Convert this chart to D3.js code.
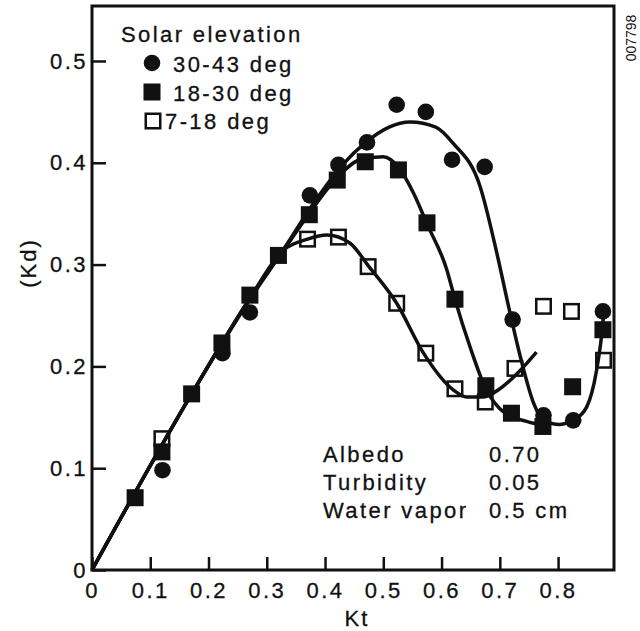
<!DOCTYPE html>
<html>
<head>
<meta charset="utf-8">
<script src="https://cdn.jsdelivr.net/npm/d3@7"></script>
<style>
  body { margin: 0; background: #fff; }
  text { font-family: "Liberation Sans", Arial, Helvetica, sans-serif; fill: #111; stroke: #111; stroke-width: 0.3px; }
</style>
</head>
<body>
<div id="container"></div>
<script>

// Classes de elevação solar
var elevationLabels = ["30-43 deg", "18-30 deg", "7-18 deg"]

// Pontos medidos [Kt, Kd]
var pointsHigh = [
  [0.121, 0.098], [0.224, 0.213], [0.271, 0.253], [0.374, 0.368], [0.423, 0.398],
  [0.472, 0.420], [0.523, 0.457], [0.573, 0.450], [0.618, 0.403], [0.674, 0.396],
  [0.722, 0.246], [0.775, 0.152], [0.826, 0.147], [0.877, 0.254]
]
var pointsMid = [
  [0.074, 0.071], [0.120, 0.116], [0.171, 0.173], [0.223, 0.223], [0.271, 0.270],
  [0.320, 0.309], [0.373, 0.349], [0.421, 0.383], [0.469, 0.401], [0.526, 0.393],
  [0.575, 0.341], [0.623, 0.266], [0.676, 0.181], [0.720, 0.154], [0.774, 0.141],
  [0.825, 0.180], [0.877, 0.236]
]
var pointsLow = [
  [0.120, 0.129], [0.370, 0.325], [0.423, 0.327], [0.474, 0.298], [0.523, 0.262],
  [0.573, 0.213], [0.623, 0.178], [0.675, 0.165], [0.726, 0.198], [0.775, 0.259],
  [0.823, 0.254], [0.878, 0.206]
]

// Curvas ajustadas [Kt, Kd]
var fitHigh = [
  [0, 0], [0.17, 0.172], [0.27, 0.265], [0.33, 0.316], [0.38, 0.360], [0.43, 0.398],
  [0.47, 0.420], [0.51, 0.435], [0.546, 0.440], [0.59, 0.435], [0.62, 0.419],
  [0.666, 0.377], [0.695, 0.311], [0.715, 0.259], [0.735, 0.210], [0.758, 0.164],
  [0.775, 0.147], [0.803, 0.143], [0.826, 0.147], [0.849, 0.160], [0.866, 0.196],
  [0.875, 0.232], [0.878, 0.250]
]
var fitMid = [
  [0, 0], [0.17, 0.172], [0.27, 0.266], [0.33, 0.315], [0.375, 0.352], [0.42, 0.385],
  [0.46, 0.403], [0.50, 0.406], [0.527, 0.395], [0.552, 0.370], [0.575, 0.340],
  [0.609, 0.295], [0.623, 0.266], [0.649, 0.219], [0.676, 0.178], [0.709, 0.154],
  [0.746, 0.146], [0.775, 0.142]
]
var fitLow = [
  [0, 0], [0.17, 0.172], [0.27, 0.266], [0.328, 0.314], [0.37, 0.325], [0.403, 0.329],
  [0.443, 0.321], [0.474, 0.299], [0.523, 0.262], [0.569, 0.213], [0.620, 0.177],
  [0.643, 0.170], [0.672, 0.170], [0.700, 0.178], [0.735, 0.196], [0.763, 0.214]
]

// Ticks
var xTicks = [0, 0.1, 0.2, 0.3, 0.4, 0.5, 0.6, 0.7, 0.8]
var xTickLabels = ["0", "0.1", "0.2", "0.3", "0.4", "0.5", "0.6", "0.7", "0.8"]
var yTicks = [0, 0.1, 0.2, 0.3, 0.4, 0.5]
var yTickLabels = ["0", "0.1", "0.2", "0.3", "0.4", "0.5"]

// Parâmetros da atmosfera
var paramNames = ["Albedo", "Turbidity", "Water vapor"]
var paramValues = ["0.70", "0.05", "0.5 cm"]

var margin = { top: 6, left: 92, right: 26, bottom: 61 },
  width = 640 - margin.left - margin.right,
  height = 631 - margin.top - margin.bottom

var svg = d3.select("#container")
  .append("svg")
  .attr("width", 640)
  .attr("height", 631)
  .append("g")
  .attr("transform", "translate(" + margin.left + "," + margin.top + ")")

// Escalas
var x = d3.scaleLinear().domain([0, 0.896]).range([0, width])
var y = d3.scaleLinear().domain([0, 0.554]).range([height, 0])

// Eixos com ticks para dentro
var xAxis = d3.axisBottom(x)
  .tickValues(xTicks)
  .tickFormat(function(d, i) { return xTickLabels[i] })
  .tickSizeInner(-13)
  .tickSizeOuter(0)
  .tickPadding(12)

var yAxis = d3.axisLeft(y)
  .tickValues(yTicks)
  .tickFormat(function(d, i) { return yTickLabels[i] })
  .tickSizeInner(-14)
  .tickSizeOuter(0)
  .tickPadding(4)

var gx = svg.append("g")
  .attr("transform", "translate(0," + height + ")")
  .call(xAxis)

var gy = svg.append("g").call(yAxis)

svg.selectAll(".domain").remove()
svg.selectAll(".tick line").attr("stroke", "#111").attr("stroke-width", 2.5)
svg.selectAll(".tick text")
  .attr("font-size", 22)
  .attr("letter-spacing", "2.5px")
  .attr("fill", "#111")
  .style("font-family", "'Liberation Sans', Arial, sans-serif")

// Moldura
svg.append("rect")
  .attr("x", 0)
  .attr("y", 0)
  .attr("width", width)
  .attr("height", height)
  .attr("fill", "none")
  .attr("stroke", "#111")
  .attr("stroke-width", 3)

// Curvas
var line = d3.line()
  .x(function(d) { return x(d[0]) })
  .y(function(d) { return y(d[1]) })
  .curve(d3.curveMonotoneX)

svg.selectAll(".fit")
  .data([fitHigh, fitMid, fitLow])
  .enter().append("path")
  .attr("class", "fit")
  .attr("d", line)
  .attr("fill", "none")
  .attr("stroke", "#111")
  .attr("stroke-width", 3.5)

var sq = 17

// Quadrados abertos
svg.selectAll(".low")
  .data(pointsLow)
  .enter().append("rect")
  .attr("class", "low")
  .attr("x", function(d) { return x(d[0]) - (sq - 2.5) / 2 })
  .attr("y", function(d) { return y(d[1]) - (sq - 2.5) / 2 })
  .attr("width", sq - 2.5)
  .attr("height", sq - 2.5)
  .attr("fill", "none")
  .attr("stroke", "#111")
  .attr("stroke-width", 2.5)

// Quadrados cheios
svg.selectAll(".mid")
  .data(pointsMid)
  .enter().append("rect")
  .attr("class", "mid")
  .attr("x", function(d) { return x(d[0]) - sq / 2 })
  .attr("y", function(d) { return y(d[1]) - sq / 2 })
  .attr("width", sq)
  .attr("height", sq)
  .attr("fill", "#111")

// Círculos
svg.selectAll(".high")
  .data(pointsHigh)
  .enter().append("circle")
  .attr("class", "high")
  .attr("cx", function(d) { return x(d[0]) })
  .attr("cy", function(d) { return y(d[1]) })
  .attr("r", 8.3)
  .attr("fill", "#111")

// Legenda
var legend = svg.append("g")
  .attr("transform", "translate(" + (-margin.left) + "," + (-margin.top) + ")")

legend.append("text")
  .text("Solar elevation")
  .attr("x", 121)
  .attr("y", 42)
  .attr("font-size", 22)
  .attr("letter-spacing", "2.4px")

legend.append("circle")
  .attr("cx", 152)
  .attr("cy", 63)
  .attr("r", 8.3)
  .attr("fill", "#111")

legend.append("rect")
  .attr("x", 152 - sq / 2)
  .attr("y", 92 - sq / 2)
  .attr("width", sq)
  .attr("height", sq)
  .attr("fill", "#111")

legend.append("rect")
  .attr("x", 153 - (sq - 2.5) / 2)
  .attr("y", 121 - (sq - 2.5) / 2)
  .attr("width", sq - 2.5)
  .attr("height", sq - 2.5)
  .attr("fill", "none")
  .attr("stroke", "#111")
  .attr("stroke-width", 2.5)

legend.selectAll(".legend-label")
  .data(elevationLabels)
  .enter().append("text")
  .attr("class", "legend-label")
  .text(function(d) { return d })
  .attr("x", function(d, i) { return i == 2 ? 165 : 173 })
  .attr("y", function(d, i) { return 72 + i * 28.5 })
  .attr("font-size", 22)
  .attr("letter-spacing", "2.4px")

// Bloco de parâmetros
legend.selectAll(".param-name")
  .data(paramNames)
  .enter().append("text")
  .attr("class", "param-name")
  .text(function(d) { return d })
  .attr("x", 323)
  .attr("y", function(d, i) { return 462 + i * 28 })
  .attr("font-size", 22)
  .attr("letter-spacing", "2.4px")

legend.selectAll(".param-value")
  .data(paramValues)
  .enter().append("text")
  .attr("class", "param-value")
  .text(function(d) { return d })
  .attr("x", 489)
  .attr("y", function(d, i) { return 462 + i * 28 })
  .attr("font-size", 22)
  .attr("letter-spacing", "2.4px")

// Títulos dos eixos
legend.append("text")
  .text("Kt")
  .attr("x", 357)
  .attr("y", 626)
  .attr("text-anchor", "middle")
  .attr("font-size", 22)
  .attr("letter-spacing", "2px")

legend.append("text")
  .text("(Kd)")
  .attr("transform", "translate(36,263) rotate(-90)")
  .attr("text-anchor", "middle")
  .attr("font-size", 22)
  .attr("letter-spacing", "2px")

legend.append("text")
  .text("007798")
  .attr("transform", "translate(636,38) rotate(-90)")
  .attr("text-anchor", "middle")
  .attr("font-size", 14)
  .style("stroke-width", 0)

</script>
</body>
</html>
